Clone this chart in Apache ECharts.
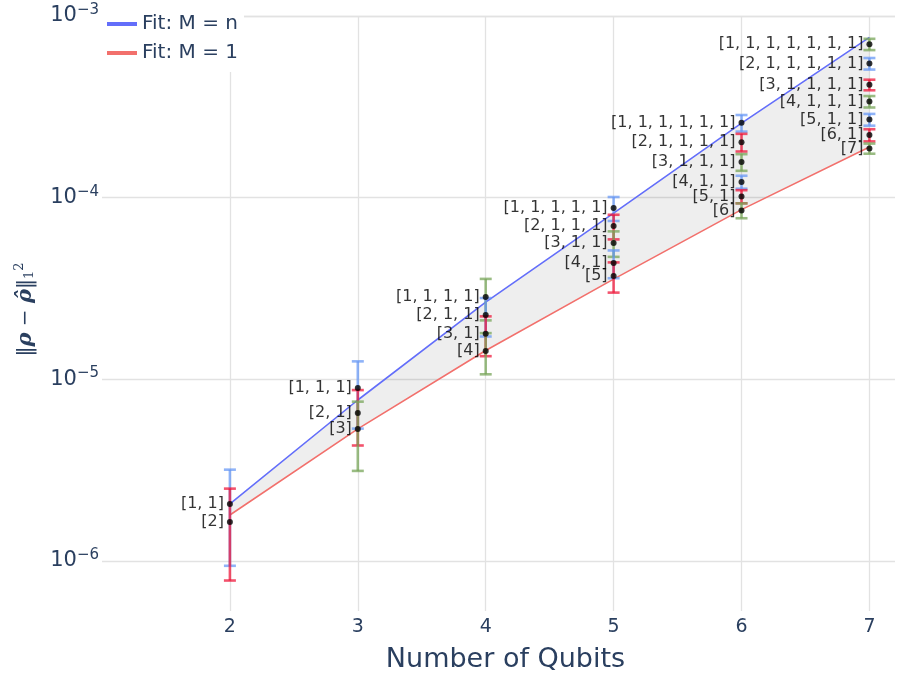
<!DOCTYPE html>
<html>
<head>
<meta charset="utf-8">
<script src="https://cdn.jsdelivr.net/npm/echarts@6/dist/echarts.min.js"></script>
<style>html,body{margin:0;padding:0;background:#fff}#main{width:899px;height:675px}</style>
</head>
<body>
<div id="main"></div>
<script>
// ---- data ----
const qubitTicks = [2, 3, 4, 5, 6, 7];
const fitMn = [2.06e-6, 7.69e-6, 2.66e-5, 8.22e-5, 2.57e-4, 7.63e-4];
const fitM1 = [1.79e-6, 5.33e-6, 1.44e-5, 3.56e-5, 8.59e-5, 1.90e-4];

const pointQubits = [2, 2, 3, 3, 3, 4, 4, 4, 4, 5, 5, 5, 5, 5, 6, 6, 6, 6, 6, 6, 7, 7, 7, 7, 7, 7, 7];
const pointLabels = [
  '[1, 1]', '[2]',
  '[1, 1, 1]', '[2, 1]', '[3]',
  '[1, 1, 1, 1]', '[2, 1, 1]', '[3, 1]', '[4]',
  '[1, 1, 1, 1, 1]', '[2, 1, 1, 1]', '[3, 1, 1]', '[4, 1]', '[5]',
  '[1, 1, 1, 1, 1, 1]', '[2, 1, 1, 1, 1]', '[3, 1, 1, 1]', '[4, 1, 1]', '[5, 1]', '[6]',
  '[1, 1, 1, 1, 1, 1, 1]', '[2, 1, 1, 1, 1, 1]', '[3, 1, 1, 1, 1]', '[4, 1, 1, 1]', '[5, 1, 1]', '[6, 1]', '[7]'
];
const pointValues = [
  2.06e-6, 1.64e-6,
  8.95e-6, 6.52e-6, 5.33e-6,
  2.84e-5, 2.26e-5, 1.78e-5, 1.43e-5,
  8.76e-5, 6.97e-5, 5.62e-5, 4.36e-5, 3.70e-5,
  2.58e-4, 2.02e-4, 1.57e-4, 1.22e-4, 1.015e-4, 8.5e-5,
  6.99e-4, 5.47e-4, 4.18e-4, 3.38e-4, 2.69e-4, 2.21e-4, 1.865e-4
];
const pointErrors = [
  1.12e-6, 0.86e-6,
  3.6e-6, 2.2e-6, 2.2e-6,
  7.3e-6, 5.4e-6, 4.4e-6, 3.65e-6,
  1.32e-5, 1.08e-5, 9.0e-6, 7.6e-6, 7.0e-6,
  2.7e-5, 2.25e-5, 1.65e-5, 1.0e-5, 8.4e-6, 8.0e-6,
  5.0e-5, 4.0e-5, 2.8e-5, 2.45e-5, 2.0e-5, 1.7e-5, 1.2e-5
];
// error bar colour group per point (b = blue, r = red, g = green)
const errorBarGroup = [
  'b', 'r',
  'b', 'r', 'g',
  'g', 'b', 'r', 'g',
  'b', 'r', 'g', 'b', 'r',
  'b', 'r', 'g', 'b', 'r', 'g',
  'g', 'b', 'r', 'g', 'b', 'r', 'g'
];

// ---- styles ----
const errColors = { b: 'rgba(100,150,245,0.72)', r: 'rgba(238,16,52,0.72)', g: 'rgba(120,165,90,0.75)' };
const axisColor = '#2a3f5f';
const FONT = 'DejaVu Sans';

const chart = echarts.init(document.getElementById('main'), null, { renderer: 'canvas' });

const fitMnData = qubitTicks.map((q, i) => [q, fitMn[i]]);
const fitM1Data = qubitTicks.map((q, i) => [q, fitM1[i]]);
const errData = pointQubits.map((q, i) => [q, pointValues[i], pointErrors[i], i]);
const ptData = pointQubits.map((q, i) => ({ value: [q, pointValues[i]], label: { formatter: pointLabels[i] } }));

const option = {
  animation: false,
  backgroundColor: '#fff',
  textStyle: { fontFamily: FONT },
  grid: { left: 102, right: 4, top: 16, bottom: 64, containLabel: false, outerBoundsMode: 'none' },
  legend: {
    data: [{ name: 'Fit: M = n', icon: 'rect' }, { name: 'Fit: M = 1', icon: 'rect' }],
    orient: 'vertical', left: 102, top: 10,
    backgroundColor: '#fff', padding: [4, 6, 9, 5],
    itemWidth: 30, itemHeight: 4, itemGap: 9,
    textStyle: { fontSize: 20, color: axisColor, fontFamily: FONT }
  },
  xAxis: {
    type: 'value', min: 1, max: 7.2, interval: 1,
    name: 'Number of Qubits', nameLocation: 'middle', nameGap: 35,
    nameTextStyle: { fontSize: 27, color: axisColor, fontFamily: FONT, padding: [0, 0, 0, 14] },
    axisLine: { show: false }, axisTick: { show: false },
    axisLabel: {
      fontSize: 19, color: axisColor, margin: 7,
      formatter: v => (qubitTicks.indexOf(v) >= 0 ? String(v) : '')
    },
    splitLine: { show: true, showMinLine: false, showMaxLine: false, lineStyle: { color: '#e2e2e2', width: 1.3 } }
  },
  yAxis: {
    type: 'log', logBase: 10, min: 5.3e-7, max: 1e-3,
    name: '{n|‖}{r|ρ}{n| − }{r|ρ̂}{n|‖}{sub|1}{sup|2}',
    nameLocation: 'middle', nameRotate: 90, nameGap: 64,
    nameTextStyle: {
      color: axisColor, padding: [0, 0, 0, 8],
      rich: {
        n: { fontSize: 20, color: axisColor, fontFamily: 'DejaVu Serif' },
        r: { fontSize: 21, color: axisColor, fontFamily: 'DejaVu Serif', fontWeight: 'bold', fontStyle: 'italic' },
        sub: { fontSize: 13, color: axisColor, fontFamily: 'DejaVu Serif', padding: [8, 0, 0, 0] },
        sup: { fontSize: 13, color: axisColor, fontFamily: 'DejaVu Serif', padding: [0, 0, 12, 0] }
      }
    },
    axisLine: { show: false }, axisTick: { show: false },
    axisLabel: {
      margin: 3,
      formatter: v => {
        const l = Math.log10(v), e = Math.round(l);
        if (Math.abs(l - e) > 1e-6) return '';
        return '{b|10}{s|' + (e < 0 ? '−' : '') + Math.abs(e) + '}';
      },
      rich: {
        b: { fontSize: 21, color: axisColor, fontFamily: FONT },
        s: { fontSize: 15, color: axisColor, fontFamily: FONT, padding: [0, 0, 12, 0] }
      }
    },
    splitLine: { show: true, showMinLine: false, lineStyle: { color: '#e2e2e2', width: 1.3 } }
  },
  series: [
    {
      type: 'custom', name: 'band', z: 1, silent: true,
      data: [[qubitTicks[0], fitMn[0]]],
      encode: { x: 0, y: 1 },
      renderItem: (params, api) => {
        const pts = fitMnData.map(d => api.coord(d)).concat(fitM1Data.slice().reverse().map(d => api.coord(d)));
        return { type: 'polygon', shape: { points: pts }, style: { fill: 'rgba(0,0,0,0.065)' } };
      }
    },
    {
      type: 'line', name: 'Fit: M = n', z: 2, data: fitMnData, showSymbol: false,
      color: '#636efa', lineStyle: { color: '#636efa', width: 1.6 }
    },
    {
      type: 'line', name: 'Fit: M = 1', z: 2, data: fitM1Data, showSymbol: false,
      color: '#f2706c', lineStyle: { color: '#f2706c', width: 1.6 }
    },
    {
      type: 'custom', name: 'errors', z: 3, silent: true,
      data: errData, encode: { x: 0, y: 1 },
      renderItem: (params, api) => {
        const x = api.value(0), v = api.value(1), e = api.value(2), idx = api.value(3);
        const top = api.coord([x, v + e]);
        const bot = api.coord([x, v - e]);
        const col = errColors[errorBarGroup[idx]];
        const hw = 6;
        const st = { stroke: col, lineWidth: 2.6 };
        return {
          type: 'group',
          children: [
            { type: 'line', shape: { x1: top[0], y1: top[1], x2: bot[0], y2: bot[1] }, style: st },
            { type: 'line', shape: { x1: top[0] - hw, y1: top[1], x2: top[0] + hw, y2: top[1] }, style: st },
            { type: 'line', shape: { x1: bot[0] - hw, y1: bot[1], x2: bot[0] + hw, y2: bot[1] }, style: st }
          ]
        };
      }
    },
    {
      type: 'scatter', name: 'points', z: 4, data: ptData,
      symbolSize: 6, itemStyle: { color: '#000' },
      label: { show: true, position: 'left', distance: 3, fontSize: 16, color: '#000', fontFamily: FONT },
      labelLayout: { hideOverlap: false }
    }
  ]
};
chart.setOption(option);
</script>
</body>
</html>
